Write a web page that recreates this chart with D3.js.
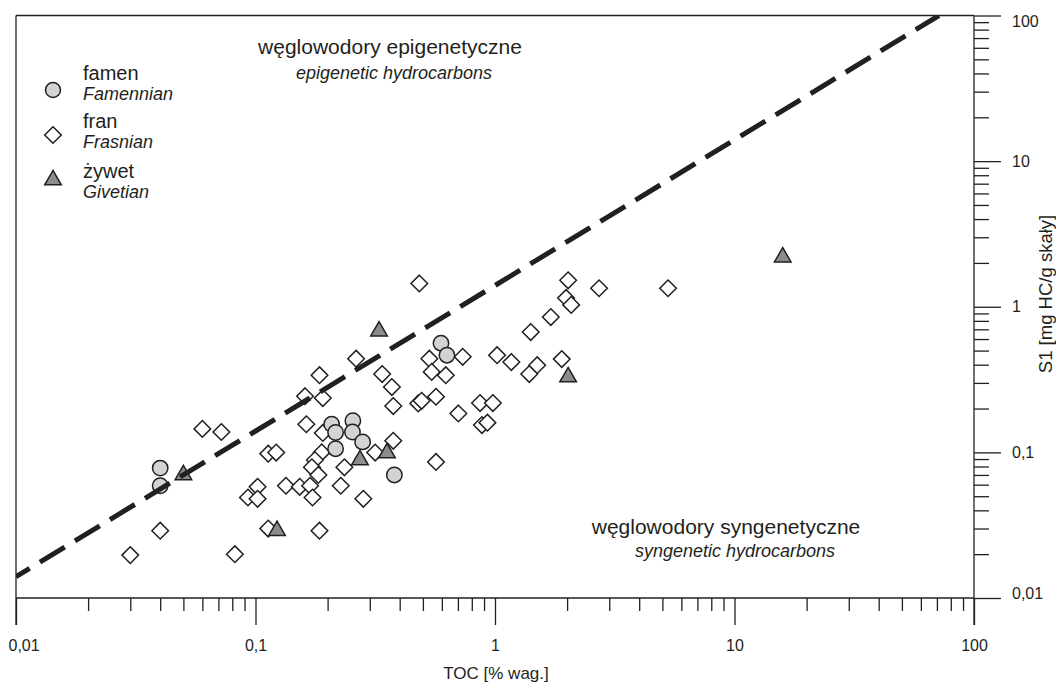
<!DOCTYPE html>
<html>
<head>
<meta charset="utf-8">
<script src="https://cdn.jsdelivr.net/npm/d3@7"></script>
<style>
  body { margin: 0; background: #fff; }
  text { font-family: "Liberation Sans", Arial, sans-serif; fill: #231f20; }
</style>
</head>
<body>
<script>
// TOC [% wag.] vs S1 [mg HC/g skaly]
const famenTOC = [0.04, 0.04, 0.595, 0.63, 0.208, 0.216, 0.255, 0.254, 0.28, 0.216, 0.38];
const famenS1 = [0.078, 0.059, 0.562, 0.465, 0.156, 0.137, 0.165, 0.138, 0.118, 0.106, 0.07];

const franTOC = [
  0.06, 0.072, 0.04, 0.03, 0.082, 0.113, 0.122, 0.093, 0.102, 0.102,
  0.113, 0.134, 0.153, 0.161, 0.163, 0.185, 0.191, 0.191, 0.189, 0.177,
  0.172, 0.183, 0.169, 0.173, 0.185, 0.235, 0.227, 0.282, 0.316, 0.376,
  0.263, 0.338, 0.371, 0.376, 0.483, 0.532, 0.733, 0.544, 0.623, 0.478,
  0.494, 0.567, 0.703, 0.567, 0.866, 0.98, 0.882, 0.93, 1.02, 1.17,
  1.5, 1.39, 1.9, 1.41, 1.71, 1.98, 2.08, 2.02, 2.72, 5.28,
];
const franS1 = [
  0.145, 0.138, 0.029, 0.0197, 0.02, 0.098, 0.0997, 0.049, 0.058, 0.048,
  0.03, 0.059, 0.058, 0.243, 0.156, 0.339, 0.236, 0.136, 0.1, 0.0886,
  0.079, 0.07, 0.059, 0.049, 0.029, 0.079, 0.059, 0.048, 0.0997, 0.12,
  0.44, 0.345, 0.281, 0.208, 1.445, 0.44, 0.453, 0.357, 0.339, 0.217,
  0.226, 0.241, 0.185, 0.086, 0.218, 0.218, 0.154, 0.16, 0.465, 0.417,
  0.397, 0.345, 0.437, 0.67, 0.85, 1.15, 1.03, 1.52, 1.34, 1.34,
];

const zywetTOC = [0.05, 0.123, 0.273, 0.354, 0.328, 2.02, 15.9];
const zywetS1 = [0.07, 0.029, 0.0886, 0.0989, 0.68, 0.329, 2.19];

// boundary line S1 = 1.4 * TOC
const boundaryRatio = 1.4;
const boundaryTOC = [0.01, 71.4];

const majorTicks = [0.01, 0.1, 1, 10, 100];
const tickLabels = ["0,01", "0,1", "1", "10", "100"];

const width = 1056;
const height = 682;
const ink = "#231f20";

const svg = d3.select("body").append("svg")
  .attr("width", width)
  .attr("height", height);

const x = d3.scaleLog().domain([0.01, 100]).range([16, 974]);
const y = d3.scaleLog().domain([0.01, 100]).range([598, 15.5]);

// minor ticks 2..9 in each decade
const minorTicks = [];
majorTicks.slice(0, -1).forEach((m) => {
  for (let k = 2; k <= 9; k++) minorTicks.push(m * k);
});

// x axis (bottom)
const xMinor = svg.append("g")
  .attr("transform", `translate(0,${y(0.01)})`)
  .call(d3.axisBottom(x).tickValues(minorTicks).tickSize(13).tickSizeOuter(0).tickFormat(""));
const xMajor = svg.append("g")
  .attr("transform", `translate(0,${y(0.01)})`)
  .call(d3.axisBottom(x).tickValues(majorTicks).tickSize(27).tickSizeOuter(0).tickPadding(15)
    .tickFormat((d, i) => tickLabels[i]));

// y axis (right)
const yMinor = svg.append("g")
  .attr("transform", `translate(${x(100)},0)`)
  .call(d3.axisRight(y).tickValues(minorTicks).tickSize(15).tickSizeOuter(0).tickFormat(""));
const yMajor = svg.append("g")
  .attr("transform", `translate(${x(100)},0)`)
  .call(d3.axisRight(y).tickValues(majorTicks).tickSize(27).tickSizeOuter(0).tickPadding(11)
    .tickFormat((d, i) => tickLabels[i]));

[xMinor, xMajor, yMinor, yMajor].forEach((g) => {
  g.select(".domain").remove();
  g.selectAll("line").attr("stroke", ink).attr("stroke-width", 1.3);
  g.selectAll("text").attr("font-size", 16).attr("fill", ink)
    .style("font-family", '"Liberation Sans", Arial, sans-serif');
});
xMajor.selectAll("text").filter((d) => d === 0.01).attr("text-anchor", "start").attr("x", -8);
yMajor.selectAll("text").filter((d) => d === 100).attr("dy", "0.71em");
yMajor.selectAll("text").filter((d) => d === 0.01).attr("dy", "0em");

// frame
const frame = svg.append("g").attr("stroke", ink).attr("stroke-width", 1.3);
frame.append("line").attr("x1", x(0.01)).attr("x2", x(100)).attr("y1", y(100)).attr("y2", y(100));
frame.append("line").attr("x1", x(0.01)).attr("x2", x(100)).attr("y1", y(0.01)).attr("y2", y(0.01));
frame.append("line").attr("x1", x(0.01)).attr("x2", x(0.01)).attr("y1", y(100)).attr("y2", y(0.01) + 27);
frame.append("line").attr("x1", x(100)).attr("x2", x(100)).attr("y1", y(100)).attr("y2", y(0.01) + 27);

// axis titles
svg.append("text")
  .attr("x", 496).attr("y", 679)
  .attr("text-anchor", "middle").attr("font-size", 17)
  .text("TOC [% wag.]");
svg.append("text")
  .attr("transform", "translate(1052,294) rotate(-90)")
  .attr("text-anchor", "middle").attr("font-size", 18.5)
  .text("S1 [mg HC/g skały]");

// region labels
const regionLabels = [
  { t: "węglowodory epigenetyczne", x: 390, y: 54, size: 21, italic: false },
  { t: "epigenetic hydrocarbons", x: 394, y: 79, size: 18, italic: true },
  { t: "węglowodory syngenetyczne", x: 726, y: 534, size: 21, italic: false },
  { t: "syngenetic hydrocarbons", x: 735, y: 557, size: 18, italic: true },
];
svg.selectAll("text.region")
  .data(regionLabels)
  .join("text")
  .attr("class", "region")
  .attr("x", (d) => d.x)
  .attr("y", (d) => d.y)
  .attr("text-anchor", "middle")
  .attr("font-size", (d) => d.size)
  .attr("font-style", (d) => (d.italic ? "italic" : "normal"))
  .text((d) => d.t);

// symbols
const diamondPath = "M0,-8.3L8.3,0L0,8.3L-8.3,0Z";
const trianglePath = "M0,-9.6L8.3,4.8L-8.3,4.8Z";

const plot = svg.append("g");

plot.selectAll("path.fran")
  .data(franTOC.map((t, i) => [t, franS1[i]]))
  .join("path")
  .attr("class", "fran")
  .attr("d", diamondPath)
  .attr("transform", (d) => `translate(${x(d[0])},${y(d[1])})`)
  .attr("fill", "#fff")
  .attr("stroke", ink)
  .attr("stroke-width", 1.5);

plot.selectAll("circle.famen")
  .data(famenTOC.map((t, i) => [t, famenS1[i]]))
  .join("circle")
  .attr("class", "famen")
  .attr("cx", (d) => x(d[0]))
  .attr("cy", (d) => y(d[1]))
  .attr("r", 7.7)
  .attr("fill", "#d1d3d4")
  .attr("stroke", ink)
  .attr("stroke-width", 1.5);

plot.selectAll("path.zywet")
  .data(zywetTOC.map((t, i) => [t, zywetS1[i]]))
  .join("path")
  .attr("class", "zywet")
  .attr("d", trianglePath)
  .attr("transform", (d) => `translate(${x(d[0])},${y(d[1])})`)
  .attr("fill", "#8b8c8e")
  .attr("stroke", ink)
  .attr("stroke-width", 1.5);

// dashed boundary, clipped to the frame
svg.append("clipPath").attr("id", "plotClip")
  .append("rect")
  .attr("x", x(0.01)).attr("y", y(100))
  .attr("width", x(100) - x(0.01)).attr("height", y(0.01) - y(100));

svg.append("path")
  .datum(boundaryTOC)
  .attr("clip-path", "url(#plotClip)")
  .attr("d", d3.line().x((d) => x(d)).y((d) => y(d * boundaryRatio)))
  .attr("fill", "none")
  .attr("stroke", ink)
  .attr("stroke-width", 5)
  .attr("stroke-dasharray", "29,12")
  .attr("stroke-dashoffset", 13);

// legend
const legendItems = [
  { pl: "famen", en: "Famennian", y: 90, ty: 80 },
  { pl: "fran", en: "Frasnian", y: 135, ty: 128 },
  { pl: "żywet", en: "Givetian", y: 180, ty: 178 },
];
const legend = svg.append("g");
legend.append("circle")
  .attr("cx", 53).attr("cy", legendItems[0].y).attr("r", 7.5)
  .attr("fill", "#d1d3d4").attr("stroke", ink).attr("stroke-width", 1.5);
legend.append("path")
  .attr("d", diamondPath)
  .attr("transform", `translate(53,${legendItems[1].y})`)
  .attr("fill", "#fff").attr("stroke", ink).attr("stroke-width", 1.5);
legend.append("path")
  .attr("d", trianglePath)
  .attr("transform", `translate(53,${legendItems[2].y})`)
  .attr("fill", "#8b8c8e").attr("stroke", ink).attr("stroke-width", 1.5);

legend.selectAll("text.pl")
  .data(legendItems)
  .join("text")
  .attr("class", "pl")
  .attr("x", 83)
  .attr("y", (d) => d.ty)
  .attr("font-size", 20)
  .text((d) => d.pl);
legend.selectAll("text.en")
  .data(legendItems)
  .join("text")
  .attr("class", "en")
  .attr("x", 83)
  .attr("y", (d) => d.ty + 20)
  .attr("font-size", 18)
  .attr("font-style", "italic")
  .text((d) => d.en);
</script>
</body>
</html>
